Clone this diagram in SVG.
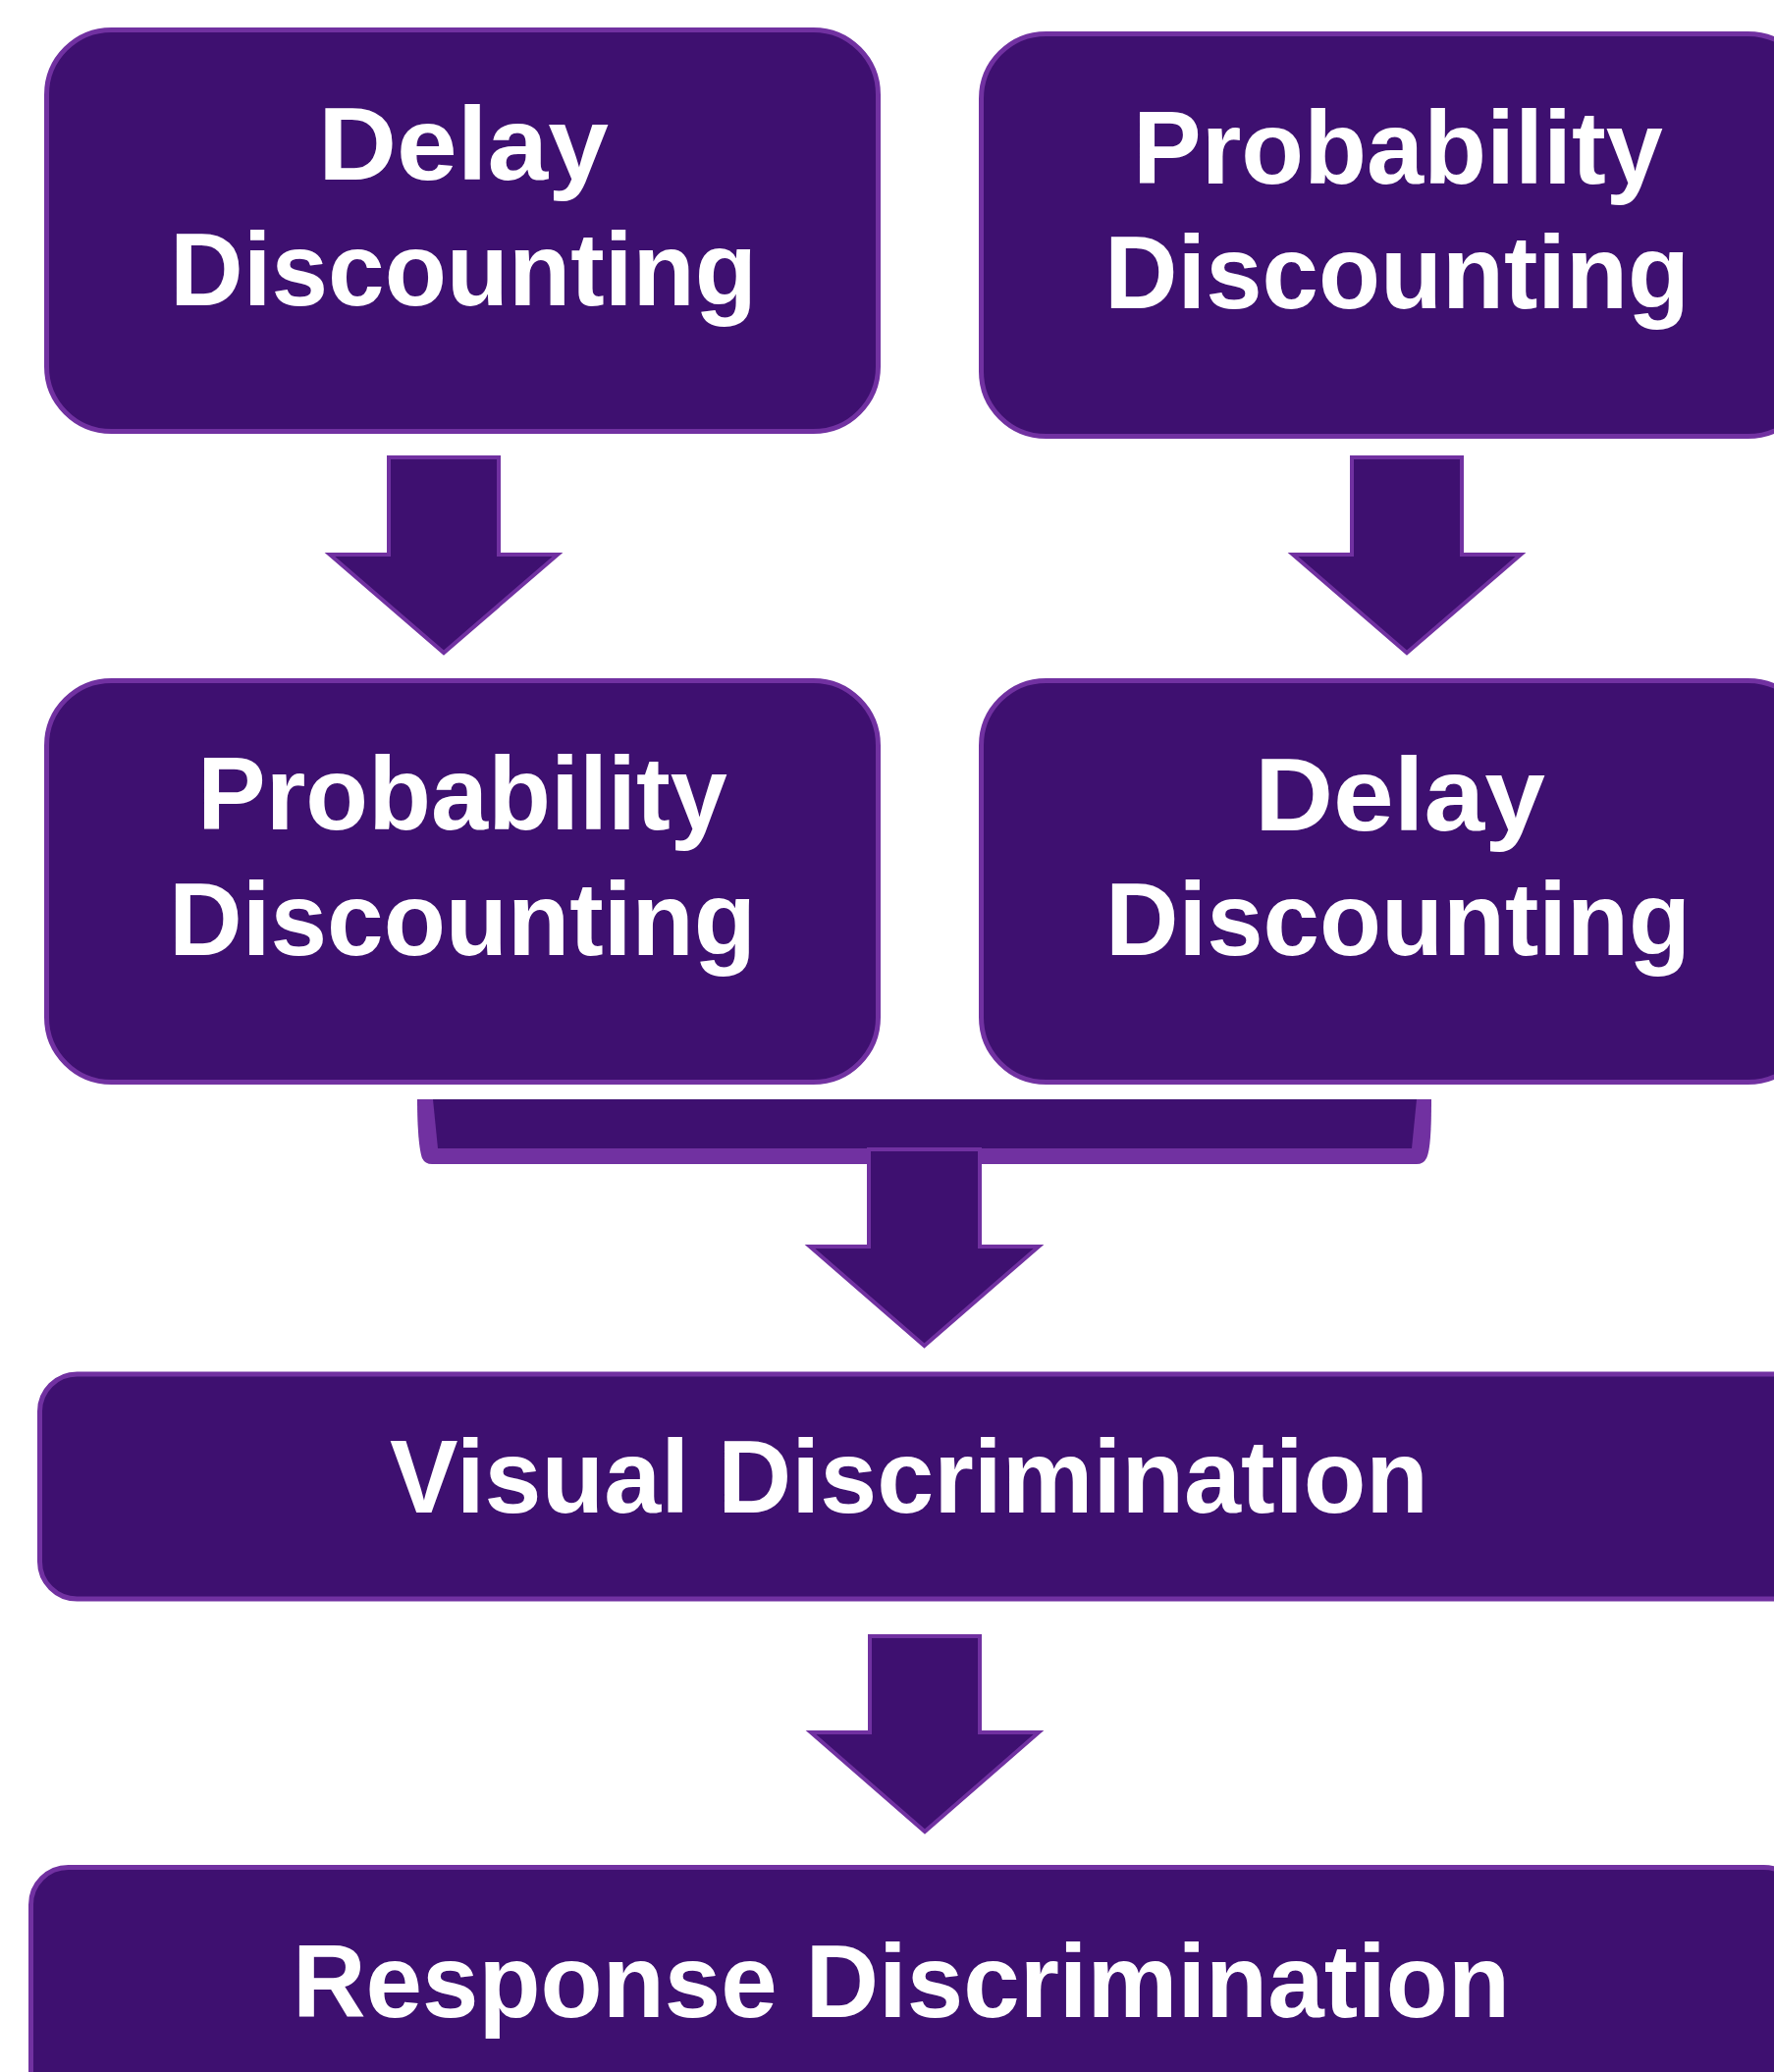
<svg xmlns="http://www.w3.org/2000/svg" width="1807" height="2111" viewBox="0 0 1807 2111">
  <style>
    .box { fill: #3e1070; stroke: #7131a1; stroke-width: 5; }
    .arrow { fill: #3e1070; stroke: #7131a1; stroke-width: 4; stroke-linejoin: miter; }
    .label { fill: #ffffff; font-family: "Liberation Sans", Arial, sans-serif; font-weight: bold; font-size: 106px; text-anchor: middle; }
  </style>
  <rect width="1807" height="2111" fill="#ffffff"/>

  <!-- Top row -->
  <g id="delay-first">
    <rect class="box" x="47.5" y="30.5" width="847" height="409" rx="66" ry="66"/>
    <text class="label" x="472" y="183" textLength="296" lengthAdjust="spacingAndGlyphs">Delay</text>
    <text class="label" x="472" y="311" textLength="598" lengthAdjust="spacingAndGlyphs">Discounting</text>
  </g>
  <g id="probability-first">
    <rect class="box" x="999.5" y="34.5" width="847" height="410" rx="66" ry="66"/>
    <text class="label" x="1424" y="187" textLength="540" lengthAdjust="spacingAndGlyphs">Probability</text>
    <text class="label" x="1423" y="314" textLength="596" lengthAdjust="spacingAndGlyphs">Discounting</text>
  </g>

  <!-- Middle row -->
  <g id="probability-second">
    <rect class="box" x="47.5" y="693.5" width="847" height="409" rx="66" ry="66"/>
    <text class="label" x="471" y="845" textLength="540" lengthAdjust="spacingAndGlyphs">Probability</text>
    <text class="label" x="471" y="973" textLength="598" lengthAdjust="spacingAndGlyphs">Discounting</text>
  </g>
  <g id="delay-second">
    <rect class="box" x="999.5" y="693.5" width="847" height="409" rx="66" ry="66"/>
    <text class="label" x="1426" y="846" textLength="296" lengthAdjust="spacingAndGlyphs">Delay</text>
    <text class="label" x="1424" y="973" textLength="596" lengthAdjust="spacingAndGlyphs">Discounting</text>
  </g>

  <!-- Full-width stages -->
  <g id="visual-discrimination">
    <rect class="box" x="40.5" y="1400" width="1830" height="229" rx="38" ry="38"/>
    <text class="label" x="926" y="1541" textLength="1058" lengthAdjust="spacingAndGlyphs">Visual Discrimination</text>
  </g>
  <g id="response-discrimination">
    <rect class="box" x="31.5" y="1902.5" width="1803" height="400" rx="38" ry="38"/>
    <text class="label" x="918" y="2055" textLength="1240" lengthAdjust="spacingAndGlyphs">Response Discrimination</text>
  </g>

  <!-- Connectors -->
  <g id="connectors">
    <path class="arrow" d="M396,466 H508 V565 H568 L452,665 L336,565 H396 Z"/>
    <path class="arrow" d="M1377,466 H1489 V565 H1549 L1433,665 L1317,565 H1377 Z"/>
    <!-- merge bracket: lighter rim with dark face -->
    <path d="M425,1120 H1458 C1458,1150 1457,1172 1453,1180 Q1450,1186 1443,1186 H440 Q433,1186 430,1180 C427,1172 425,1150 425,1120 Z" fill="#7131a1"/>
    <path d="M441,1120 H1443 L1438,1170 H446 Z" fill="#3e1070"/>
    <path class="arrow" d="M885,1171 H998 V1270 H1058 L941.5,1371 L825,1270 H885 Z"/>
    <path class="arrow" d="M886,1667 H998 V1765 H1058 L942,1866 L826,1765 H886 Z"/>
  </g>
</svg>
